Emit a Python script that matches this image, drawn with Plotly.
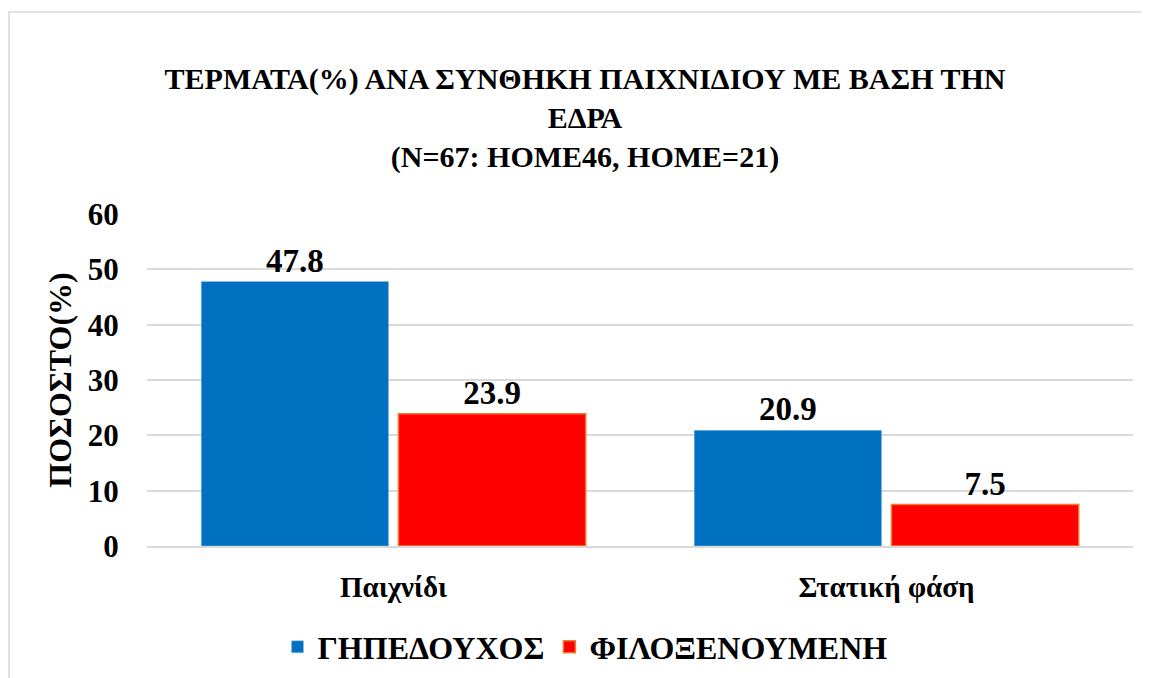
import plotly.graph_objects as go

categories = ["Παιχνίδι", "Στατική φάση"]
home_vals = [47.8, 20.9]
away_vals = [23.9, 7.5]
series_names = ["ΓΗΠΕΔΟΥΧΟΣ", "ΦΙΛΟΞΕΝΟΥΜΕΝΗ"]
y_ticks = [0, 10, 20, 30, 40, 50, 60]

FONT = "serif"
OFF = 8  # page body margin

fig = go.Figure()
fig.add_trace(go.Bar(
    x=categories, y=home_vals, name=series_names[0],
    marker=dict(color="#0070C0", line=dict(color="#9DC3E6", width=0.5)),
    text=[f"{v:.1f}" for v in home_vals], textposition="outside",
    textfont=dict(family=FONT, size=33, color="black", weight="bold"),
    cliponaxis=False,
))
fig.add_trace(go.Bar(
    x=categories, y=away_vals, name=series_names[1],
    marker=dict(color="#FF0000", line=dict(color="#ED7D31", width=1.5)),
    text=[f"{v:.1f}" for v in away_vals], textposition="outside",
    textfont=dict(family=FONT, size=33, color="black", weight="bold"),
    cliponaxis=False,
))

W, H = 1149, 678
L, T = 147 - OFF, 214 - OFF
R = W - (1133 - OFF)
B = H - (546 - OFF)
pw, ph = W - L - R, H - T - B

def px(xp):
    return (xp - OFF - L) / pw

def py(yp):
    return ((H - B) - (yp - OFF)) / ph

fig.update_layout(
    width=W, height=H,
    margin=dict(l=L, r=R, t=T, b=B),
    paper_bgcolor="white", plot_bgcolor="white",
    title=dict(
        text="ΤΕΡΜΑΤΑ(%) ΑΝΑ ΣΥΝΘΗΚΗ ΠΑΙΧΝΙΔΙΟΥ ΜΕ ΒΑΣΗ ΤΗΝ<br>ΕΔΡΑ<br>(N=67: HOME46, HOME=21)",
        x=(585 - OFF) / W, xanchor="center", y=1 - (89 - OFF) / H, yanchor="middle",
        font=dict(family=FONT, size=30, color="black", weight="bold"),
    ),
    barmode="group", bargap=0.2, bargroupgap=0.05,
    showlegend=True,
    legend=dict(
        orientation="h", x=px(585), xanchor="center", y=py(647), yanchor="middle",
        font=dict(family=FONT, size=32, color="black", weight="bold"),
        itemwidth=30, tracegroupgap=0,
    ),
    shapes=[dict(type="rect", xref="paper", yref="paper",
                 x0=px(9), x1=px(W + 30),
                 y0=py(H + 30), y1=py(12),
                 line=dict(color="#D9D9D9", width=1.5), layer="below")],
)
fig.update_xaxes(
    tickfont=dict(family=FONT, size=29, color="black", weight="bold"),
    showline=True, linecolor="#D9D9D9", linewidth=1.5, ticks="outside", ticklen=14, tickcolor="white",
)
fig.update_yaxes(
    range=[0, 60], tickvals=y_ticks, ticktext=[str(v) for v in y_ticks],
    tickfont=dict(family=FONT, size=31, color="black", weight="bold"),
    showgrid=True, gridcolor="#D9D9D9", gridwidth=1.5, zeroline=False,
    ticks="outside", ticklen=21, tickcolor="white",
    title=dict(text="ΠΟΣΟΣΤΟ(%)", font=dict(family=FONT, size=32, color="black", weight="bold"), standoff=6),
)

fig.write_html("out.html")
